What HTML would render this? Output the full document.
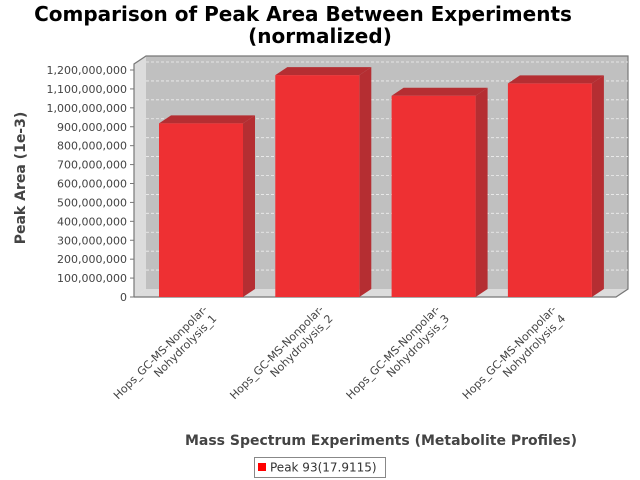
<!DOCTYPE html>
<html><head><meta charset="utf-8"><style>
body{margin:0;background:#fff;}
svg{display:block;font-family:"DejaVu Sans","Liberation Sans",sans-serif;}
</style></head><body>
<svg id="chart" width="640" height="480" viewBox="0 0 640 480">
<text x="303" y="21" text-anchor="middle" font-size="20" font-weight="bold">Comparison of Peak Area Between Experiments</text>
<text x="320" y="43" text-anchor="middle" font-size="20" font-weight="bold">(normalized)</text>
<g id="plot"></g>
<text transform="translate(25,178) rotate(-90)" text-anchor="middle" font-size="14" font-weight="bold" fill="#444">Peak Area (1e-3)</text>
<text x="381" y="445" text-anchor="middle" font-size="14" font-weight="bold" fill="#444">Mass Spectrum Experiments (Metabolite Profiles)</text>
<g>
<rect x="254.5" y="457.5" width="131" height="20" fill="#fff" stroke="#888"/>
<rect x="258" y="463" width="8" height="8" fill="#f00"/>
<text x="270" y="471.5" font-size="12" fill="#333">Peak 93(17.9115)</text>
</g>
</svg>
<script>
const categories = ["Hops_GC-MS-Nonpolar-|Nohydrolysis_1","Hops_GC-MS-Nonpolar-|Nohydrolysis_2","Hops_GC-MS-Nonpolar-|Nohydrolysis_3","Hops_GC-MS-Nonpolar-|Nohydrolysis_4"];
const values = [918000000, 1173000000, 1064000000, 1129000000];
const yTicks = [0,100000000,200000000,300000000,400000000,500000000,600000000,700000000,800000000,900000000,1000000000,1100000000,1200000000];

const NS="http://www.w3.org/2000/svg";
const g=document.getElementById('plot');
const X0=134,X1=616,Y0=297,DX=12,DY=8;
const pxPer=(297-70)/1200000000;
function y(v){return Y0-v*pxPer;}
const catW=(X1-X0)/categories.length;
function cx(i){return X0+67+i*116.3;}
function mk(t,a,name){const e=document.createElementNS(NS,t);for(const k in a)e.setAttribute(k,a[k]);


g.appendChild(e);return e;}
// walls
mk('polygon',{points:`${X0},${Y0} ${X0+DX},${Y0-DY} ${X1+DX},${Y0-DY} ${X1},${Y0}`,fill:'#dcdcdc'},'floor');
mk('polygon',{points:`${X0},${Y0} ${X0},${y(1200000000)-6} ${X0+DX},${y(1200000000)-14} ${X0+DX},${Y0-DY}`,fill:'#dcdcdc'},'left-wall');
mk('rect',{x:X0+DX,y:56,width:X1-X0,height:Y0-DY-56,fill:'#c0c0c0'},'back-wall');
mk('polyline',{points:`${X0},${Y0} ${X0},${y(1200000000)-6} ${X0+DX},${56} ${X1+DX},56 ${X1+DX},${Y0-DY} ${X1},${Y0} ${X0},${Y0}`,fill:'none',stroke:'#777',"stroke-width":1.2},'plot-outline');
yTicks.forEach(v=>{
 if(v>0) mk('line',{x1:X0+DX,x2:X1+DX,y1:y(v)-DY,y2:y(v)-DY,stroke:'#eee',"stroke-dasharray":"3,2","stroke-width":0.8},'gridline');
 mk('line',{x1:X0-4,x2:X0,y1:y(v),y2:y(v),stroke:'#777'},'y-tick');
 const t=mk('text',{x:X0-7,y:y(v)+4,"text-anchor":"end","font-size":11,fill:'#444'},'y-tick-label');
 t.textContent=v.toLocaleString('en-US');
});
values.forEach((v,i)=>{
 const l=cx(i)-42,r=cx(i)+42,top=y(v);
 mk('polygon',{points:`${r},${Y0} ${r+DX},${Y0-DY} ${r+DX},${top-DY} ${r},${top}`,fill:'#b52e32'},'bar-side');
 mk('polygon',{points:`${l},${top} ${l+DX},${top-DY} ${r+DX},${top-DY} ${r},${top}`,fill:'#b52e32'},'bar-top');
 mk('rect',{x:l,y:top,width:84,height:Y0-top,fill:'#ee3033'},'bar-'+(i+1));
 const parts=categories[i].split('|');
 const ax=cx(i)+7,ay=310;
 parts.forEach((p,j)=>{
  const t=mk('text',{transform:`translate(${ax},${ay}) rotate(-45)`,x:0,y:j*13,"text-anchor":"end","font-size":11,fill:'#444'},'x-tick-label');
  t.textContent=p;
 });
});
</script>
</body></html>
